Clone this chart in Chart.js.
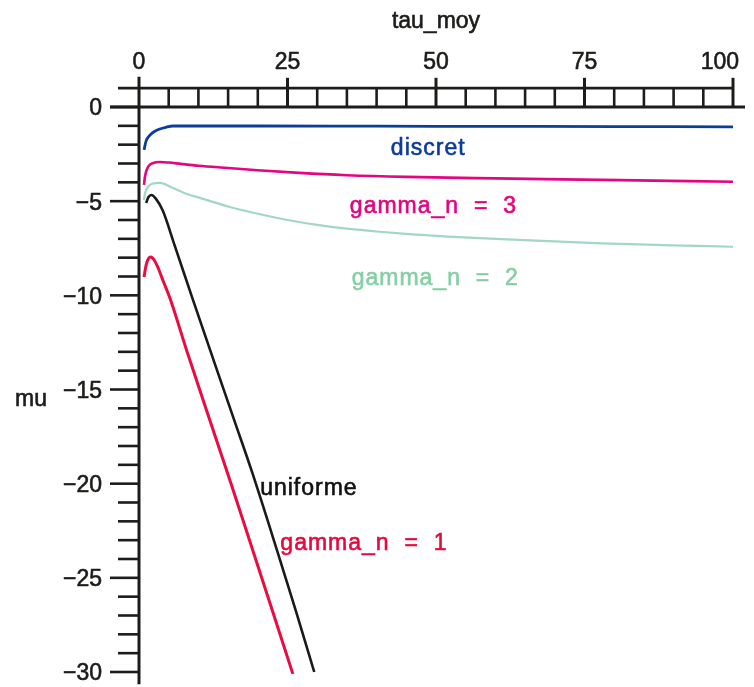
<!DOCTYPE html>
<html>
<head>
<meta charset="utf-8">
<script src="https://cdn.jsdelivr.net/npm/chart.js@4"></script>
<style>
  html, body { margin: 0; padding: 0; background: #ffffff; }
  #wrap { width: 754px; height: 687px; }
</style>
</head>
<body>
<div id="wrap"><canvas id="c" width="754" height="687"></canvas></div>
<script>
// mu as a function of tau_moy for each delay distribution
const tauDiscret = [0.84, 1.2, 1.85, 2.6, 3.5, 4.5, 5.7, 10, 20, 40, 60, 80, 100];
const muDiscret  = [-2.28, -1.8, -1.49, -1.3, -1.17, -1.08, -1.01, -1.01, -1.01, -1.02, -1.03, -1.04, -1.05];

const tauGamma3 = [0.84, 1.0, 1.5, 2.4, 3.5, 5, 7, 10, 15, 20, 27, 35, 45, 60, 78, 100];
const muGamma3  = [-4.14, -3.7, -3.19, -2.97, -2.92, -2.95, -3.02, -3.12, -3.24, -3.36, -3.5, -3.62, -3.71, -3.79, -3.87, -3.97];

const tauGamma2 = [0.84, 1.0, 1.5, 2.2, 3.5, 5.7, 7.5, 10, 15, 20, 25, 30, 35, 40, 45, 52, 61, 70, 78, 88, 100];
const muGamma2  = [-4.94, -4.6, -4.25, -4.08, -4.03, -4.3, -4.55, -4.8, -5.28, -5.67, -6.0, -6.26, -6.46, -6.61, -6.74, -6.88, -7.02, -7.14, -7.24, -7.33, -7.42];

const tauUniforme = [1.2, 1.6, 2.1, 2.8, 4.0, 6.0, 9.1, 13, 16, 19, 23.2, 26.5, 29.5];
const muUniforme  = [-5.1, -4.78, -4.67, -4.85, -5.5, -7.35, -10.25, -13.85, -16.6, -19.35, -23.5, -26.85, -30.0];

const tauGamma1 = [0.84, 1.2, 1.6, 2.0, 2.6, 3.3, 4.0, 5.2, 8, 12, 15.5, 18.7, 22, 25.9];
const muGamma1  = [-9.03, -8.4, -8.05, -7.97, -8.15, -8.6, -9.19, -10.14, -12.9, -16.7, -20.0, -23.1, -26.3, -30.1];

// axis ticks
const xTickLabels = [0, 25, 50, 75, 100];
const yTickLabels = [0, -5, -10, -15, -20, -25, -30];

const FONT = '23px "Liberation Sans", Arial, Helvetica, sans-serif';
const INK = '#1c1c1a';

function pts(xs, ys) { return xs.map((x, i) => ({ x: x, y: ys[i] })); }

function series(xs, ys, color, width, tag) {
  return {
    label: tag,
    data: pts(xs, ys),
    borderColor: color,
    borderWidth: width,
    pointRadius: 0,
    cubicInterpolationMode: 'monotone',
    fill: false,
    clip: false
  };
}

// slightly heavier text, like the printed plot
function heavyText(ctx, s, x, y) {
  ctx.fillText(s, x, y);
  ctx.lineWidth = 0.6;
  ctx.strokeStyle = ctx.fillStyle;
  ctx.strokeText(s, x, y);
}

// Curve captions placed at data coordinates (left edge, baseline)
const curveLabels = [
  { text: 'discret',        x: 42.4, y: -2.55,  color: '#0b3c9c' },
  { text: 'gamma_n  =  3',  x: 35.5, y: -5.63,  color: '#e2057f' },
  { text: 'gamma_n  =  2',  x: 35.8, y: -9.45,  color: '#86cfa6' },
  { text: 'uniforme',       x: 20.4, y: -20.6,  color: '#111111' },
  { text: 'gamma_n  =  1',  x: 23.8, y: -23.53, color: '#e8083e' }
];

// Maple-style axes: vertical mu axis at tau_moy = 0, horizontal axis at mu = 0
// with a ladder of ticks above it, labels on the top.
const axesPlugin = {
  id: 'mapleAxes',
  beforeDatasetsDraw(chart) {
    const ctx = chart.ctx;
    const xs = chart.scales.x, ys = chart.scales.y;
    const X = v => xs.getPixelForValue(v);
    const Y = v => ys.getPixelForValue(v);
    ctx.save();
    ctx.strokeStyle = INK;
    ctx.lineCap = 'butt';

    // vertical axis
    ctx.lineWidth = 3;
    ctx.beginPath();
    ctx.moveTo(X(0), Y(-30.65));
    ctx.lineTo(X(0), Y(1.6));
    ctx.stroke();

    // y ticks
    ctx.lineWidth = 2.6;
    for (let v = -30; v <= 0; v++) {
      const major = v % 5 === 0;
      ctx.beginPath();
      ctx.moveTo(X(0) - (major ? 29 : 21), Y(v));
      ctx.lineTo(X(0), Y(v));
      ctx.stroke();
    }

    // horizontal axis at mu = 0 and the upper rail at mu = 1
    ctx.lineWidth = 3;
    ctx.beginPath();
    ctx.moveTo(X(0) - 29, Y(0));
    ctx.lineTo(X(100) + 12, Y(0));
    ctx.stroke();
    ctx.lineWidth = 2.6;
    ctx.beginPath();
    ctx.moveTo(X(0) - 21, Y(1));
    ctx.lineTo(X(100), Y(1));
    ctx.stroke();

    // x ticks
    for (let v = 5; v <= 100; v += 5) {
      const major = v % 25 === 0;
      ctx.lineWidth = major ? 3 : 2.6;
      ctx.beginPath();
      ctx.moveTo(X(v), Y(0));
      ctx.lineTo(X(v), Y(major ? 1.55 : 1));
      ctx.stroke();
    }

    // tick labels
    ctx.fillStyle = INK;
    ctx.font = FONT;
    ctx.textBaseline = 'alphabetic';
    xTickLabels.forEach(v => {
      const s = String(v);
      if (v === 100) {
        ctx.textAlign = 'right';
        heavyText(ctx, s, X(v) + 6, 69);
      } else {
        ctx.textAlign = 'center';
        heavyText(ctx, s, X(v), 69);
      }
    });
    ctx.textAlign = 'right';
    ctx.textBaseline = 'middle';
    yTickLabels.forEach(v => {
      const s = v < 0 ? '\u2212' + Math.abs(v) : String(v);
      heavyText(ctx, s, X(0) - 37, Y(v) + 2);
    });

    // axis titles
    ctx.textBaseline = 'alphabetic';
    ctx.textAlign = 'center';
    heavyText(ctx, 'tau_moy', X(50), 28);
    ctx.textAlign = 'left';
    heavyText(ctx, 'mu', 15, 406);
    ctx.restore();
  },
  afterDatasetsDraw(chart) {
    const ctx = chart.ctx;
    const xs = chart.scales.x, ys = chart.scales.y;
    ctx.save();
    ctx.font = FONT;
    ctx.letterSpacing = '1px';
    ctx.textAlign = 'left';
    ctx.textBaseline = 'alphabetic';
    curveLabels.forEach(l => {
      ctx.fillStyle = l.color;
      heavyText(ctx, l.text, xs.getPixelForValue(l.x), ys.getPixelForValue(l.y));
    });
    ctx.restore();
  }
};

new Chart(document.getElementById('c'), {
  type: 'line',
  data: {
    datasets: [
      series(tauGamma2, muGamma2, '#a3d6c6', 2.2, 'gamma_n = 2'),
      series(tauGamma3, muGamma3, '#e3067f', 2.6, 'gamma_n = 3'),
      series(tauDiscret, muDiscret, '#0b3d9c', 2.8, 'discret'),
      series(tauGamma1, muGamma1, '#ea0c40', 3, 'gamma_n = 1'),
      series(tauUniforme, muUniforme, '#1a1a1a', 2.6, 'uniforme')
    ]
  },
  options: {
    responsive: false,
    animation: false,
    events: [],
    layout: { padding: { left: 139, right: 21, top: 107, bottom: 15 } },
    plugins: { legend: { display: false }, tooltip: { enabled: false } },
    scales: {
      x: { type: 'linear', min: 0, max: 100, display: false },
      y: { type: 'linear', min: -30, max: 0, display: false }
    }
  },
  plugins: [axesPlugin]
});
</script>
</body>
</html>
